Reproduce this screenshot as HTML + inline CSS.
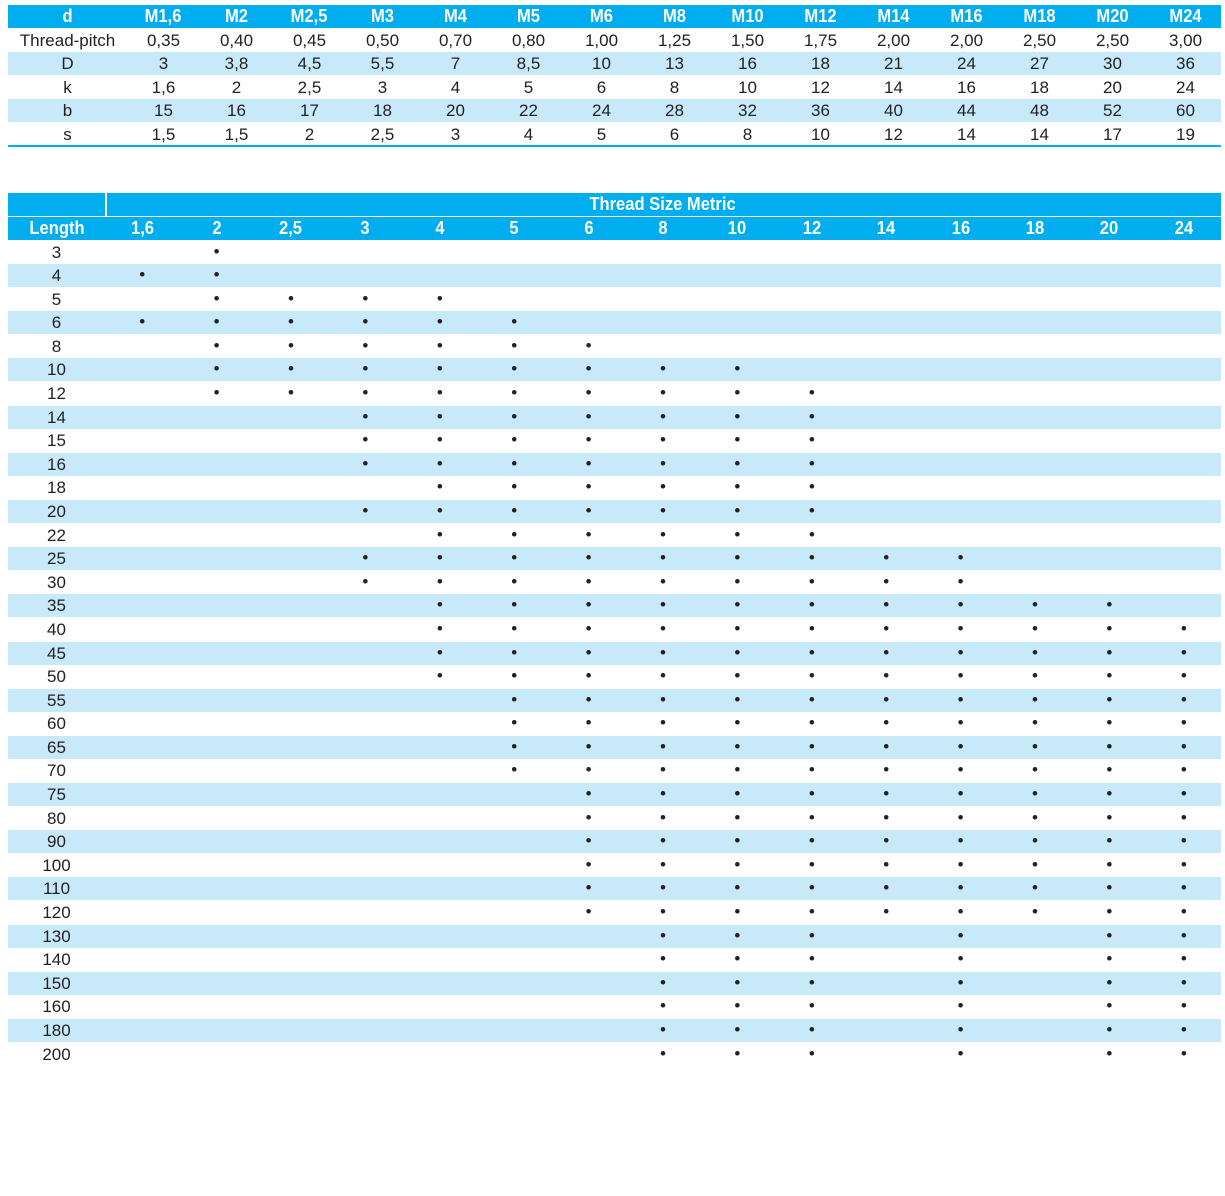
<!DOCTYPE html>
<html><head><meta charset="utf-8"><style>
body{margin:0;background:#fff;font-family:"Liberation Sans",sans-serif;color:#222;}
.r{position:absolute;left:8px;width:1213px;}
.c{position:absolute;text-align:center;font-size:17px;line-height:24px;}
.h{color:#fff;font-weight:bold;font-size:18px;line-height:23px;}
.h span{display:inline-block;transform:scaleX(0.92);}
</style></head><body>
<div id="p" style="position:relative;width:1225px;height:1196px;"></div>
<script>
var P=document.getElementById('p'),H='';
function row(y,h,bg){H+='<div class="r" style="top:'+y+'px;height:'+h+'px;background:'+bg+'"></div>';}
function cell(x,w,y,t,cls){H+='<div class="c '+(cls||'')+'" style="left:'+x+'px;width:'+w+'px;top:'+y+'px"><span>'+t+'</span></div>';}
var B='#00AEEF',L='#C8E9FA';
var tops=[['d','M1,6','M2','M2,5','M3','M4','M5','M6','M8','M10','M12','M14','M16','M18','M20','M24'],
['Thread-pitch','0,35','0,40','0,45','0,50','0,70','0,80','1,00','1,25','1,50','1,75','2,00','2,00','2,50','2,50','3,00'],
['D','3','3,8','4,5','5,5','7','8,5','10','13','16','18','21','24','27','30','36'],
['k','1,6','2','2,5','3','4','5','6','8','10','12','14','16','18','20','24'],
['b','15','16','17','18','20','22','24','28','32','36','40','44','48','52','60'],
['s','1,5','1,5','2','2,5','3','4','5','6','8','10','12','14','14','17','19']];
for(var i=0;i<6;i++){var y=5+i*23.5;var bg=i==0?B:(i%2==0?L:'#fff');row(y,23,bg);
 for(var j=0;j<16;j++){var x=j==0?8:127+(j-1)*73,w=j==0?119:73;cell(x,w,y,tops[i][j],i==0?'h':'');}}
H+='<div class="r" style="top:145px;height:1.5px;background:'+B+'"></div>';
row(193,23,B);H+='<div style="position:absolute;left:105px;top:193px;width:1.5px;height:23px;background:#fff"></div>';
cell(105,1116,193,'Thread Size Metric','h');
row(217,23,B);
var cols=['1,6','2','2,5','3','4','5','6','8','10','12','14','16','18','20','24'];
cell(8,97,217,'Length','h');
for(var j=0;j<15;j++)cell(105+j*74.4,74.4,217,cols[j],'h');
var lens=[3,4,5,6,8,10,12,14,15,16,18,20,22,25,30,35,40,45,50,55,60,65,70,75,80,90,100,110,120,130,140,150,160,180,200];
function rg(a,b){return function(v){return v>=a&&v<=b;};}
function ls(arr){return function(v){return arr.indexOf(v)>=0;};}
var f=[ls([4,6]),rg(3,12),rg(5,12),ls([5,6,8,10,12,14,15,16,20,25,30]),rg(5,50),rg(6,70),rg(8,120),rg(10,200),rg(10,200),rg(12,200),rg(25,120),rg(25,200),rg(35,120),rg(35,200),rg(40,200)];
for(var i=0;i<lens.length;i++){var y=240.5+i*23.59;row(y,23,i%2?L:'#fff');cell(8,97,y,lens[i]);
 for(var j=0;j<15;j++)if(f[j](lens[i]))cell(105+j*74.4,74.4,y-1,'•');}
P.innerHTML=H;
</script>
</body></html>
